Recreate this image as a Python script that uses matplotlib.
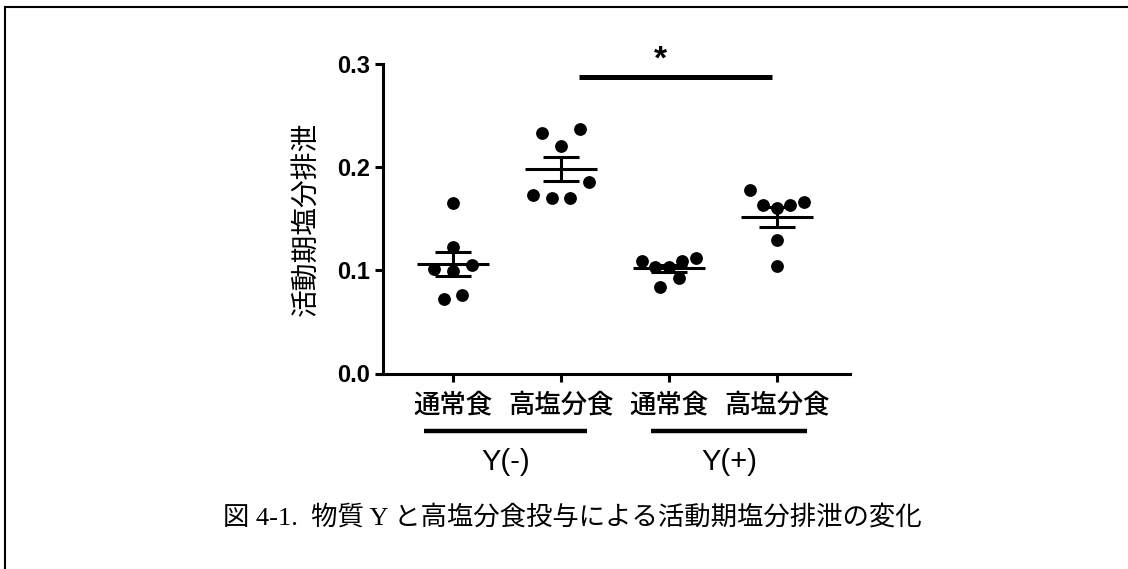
import numpy as np
import matplotlib
matplotlib.use("Agg")
from matplotlib import pyplot as plt
from matplotlib.lines import Line2D
import matplotlib.transforms as mtransforms

plt.rcParams['font.family'] = ['Liberation Sans', 'Noto Sans CJK JP', 'DejaVu Sans']

# data
categories = ['通常食', '高塩分食', '通常食', '高塩分食']
groups = ['Y(-)', 'Y(+)']
values = [
    [0.165, 0.123, 0.101, 0.099, 0.1055, 0.0726, 0.0758],
    [0.233, 0.237, 0.221, 0.1855, 0.1726, 0.170, 0.170],
    [0.109, 0.103, 0.103, 0.109, 0.112, 0.093, 0.084],
    [0.1774, 0.163, 0.160, 0.163, 0.166, 0.129, 0.104],
]
# horizontal slot of each dot inside its column (scatter layout)
slots = [
    [0, 0, -2, 0, 2, -1, 1],
    [-2, 2, 0, 3, -3, -1, 1],
    [-2.9, -1.5, 0, 1.45, 2.9, 1.05, -1],
    [-2.9, -1.5, 0, 1.45, 2.9, 0, 0],
]
yticks = [0.0, 0.1, 0.2, 0.3]
sig_label = '*'
caption = '図 4-1.  物質 Y と高塩分食投与による活動期塩分排泄の変化'
ylabel = '活動期塩分排泄'

W, H = 1128, 569
fig = plt.figure(figsize=(W / 100, H / 100), dpi=100)
ax = fig.add_axes([383 / W, 1 - 373.5 / H, (850 - 383) / W, (373.5 - 64) / H])

slot_w = 0.086
for i, (vals, sl) in enumerate(zip(values, slots)):
    v = np.array(vals)
    x = i + np.array(sl) * slot_w
    ax.scatter(x, v, s=85, color='black', zorder=3, linewidths=0)
    m = v.mean()
    sem = v.std(ddof=1) / np.sqrt(len(v))
    ax.plot([i - 0.33, i + 0.33], [m, m], color='black', lw=2.2, solid_capstyle='butt')
    ax.plot([i, i], [m - sem, m + sem], color='black', lw=2.2)
    for yy in (m - sem, m + sem):
        ax.plot([i - 0.165, i + 0.165], [yy, yy], color='black', lw=2.2, solid_capstyle='butt')

ax.set_xlim(-0.648, 3.676)
ax.set_ylim(0, 0.3)
ax.set_yticks(yticks)
ax.set_yticklabels([f'{t:.1f}' for t in yticks], fontsize=17, fontweight='bold')
ax.set_xticks(range(len(categories)))
ax.set_xticklabels(categories, fontsize=19, fontweight='medium', family=['Noto Sans CJK JP'])
ax.tick_params(axis='both', width=2.2, length=6, color='black')
ax.tick_params(axis='x', pad=7)
ax.tick_params(axis='y', pad=3)
for s in ['top', 'right']:
    ax.spines[s].set_visible(False)
for s in ['left', 'bottom']:
    ax.spines[s].set_linewidth(2.2)

ax.set_ylabel(ylabel, fontsize=20, family=['Noto Sans CJK JP'], labelpad=12)

# significance bar
ax.plot([1.167, 2.955], [0.2877, 0.2877], color='black', lw=3.6, clip_on=False, solid_capstyle='butt')
ax.text(1.92, 0.3035, sig_label, ha='center', va='center', fontsize=24, fontweight='bold')

# group bars under the tick labels
trans = mtransforms.blended_transform_factory(ax.transData, ax.transAxes)
group_spans = [(-0.27, 1.24), (1.83, 3.28)]
for (x0, x1), g in zip(group_spans, groups):
    ax.add_line(Line2D([x0, x1], [-0.185, -0.185], transform=trans, color='black',
                       lw=3.2, clip_on=False, solid_capstyle='butt'))
    ax.text((x0 + x1) / 2, -0.285, g, transform=trans, ha='center', va='center', fontsize=21)

fig.text(572 / W, 1 - 517 / H, caption, ha='center', va='center', fontsize=19,
         family=['Liberation Serif', 'Noto Sans CJK JP'])

# frame around the figure
fig.add_artist(Line2D([5 / W, 5 / W], [0, 1 - 7 / H], transform=fig.transFigure, color='black', lw=1.5))
fig.add_artist(Line2D([5 / W, 1], [1 - 7 / H, 1 - 7 / H], transform=fig.transFigure, color='black', lw=1.5))

fig.savefig('out.png', dpi=100)
